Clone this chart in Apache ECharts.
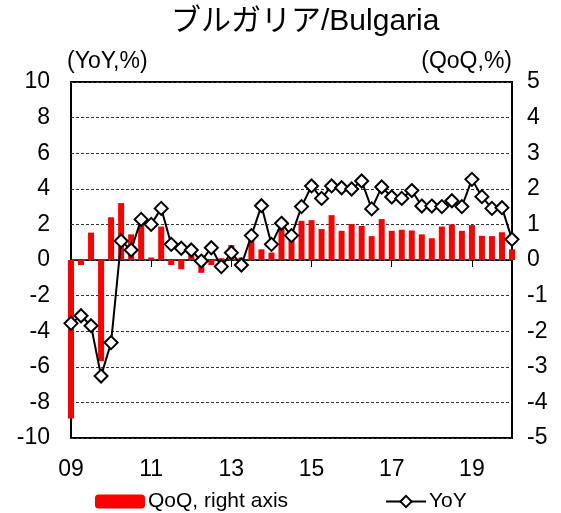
<!DOCTYPE html>
<html>
<head>
<meta charset="utf-8">
<script src="https://cdn.jsdelivr.net/npm/echarts@6/dist/echarts.min.js"></script>
<style>
  html, body { margin: 0; padding: 0; background: #fff; }
  #chart { width: 561px; height: 513px; }
</style>
</head>
<body>
<div id="chart"></div>
<script>
// quarters 2009Q1 .. 2020Q1
const quarters = []
for (let y = 2009; y <= 2020; y++) {
  for (let q = 1; q <= 4; q++) {
    if (y === 2020 && q > 1) break
    quarters.push(String(y).slice(2) + 'Q' + q)
  }
}

// YoY, %, left axis
const yoy = [
  -3.56, -3.13, -3.69, -6.52, -4.64, 1.07, 0.56, 2.28, 2.0, 2.9,
  0.88, 0.66, 0.56, -0.06, 0.69, -0.37, 0.41, -0.28, 1.37, 3.05,
  0.88, 2.06, 1.37, 3.0, 4.16, 3.46, 4.16, 4.06, 3.99, 4.44,
  2.87, 4.1, 3.54, 3.46, 3.9, 3.03, 3.03, 3.0, 3.33, 3.0,
  4.53, 3.56, 2.9, 2.94, 1.16
]

// QoQ, %, right axis
const qoq = [
  -4.45, -0.14, 0.77, -2.84, 1.2, 1.6, 0.72, 0.98, 0.07, 0.94,
  -0.14, -0.26, 0.14, -0.36, -0.14, 0.05, 0.42, 0.07, 0.56, 0.3,
  0.21, 0.87, 0.56, 1.1, 1.12, 0.87, 1.26, 0.82, 1.01, 0.96,
  0.67, 1.15, 0.82, 0.85, 0.83, 0.72, 0.61, 0.94, 1.0, 0.82,
  0.98, 0.68, 0.67, 0.78, 0.3
]

const font = 'Arial, "Liberation Sans", "Noto Sans CJK JP", sans-serif'

const chart = echarts.init(document.getElementById('chart'))
chart.setOption({
  animation: false,
  textStyle: { fontFamily: font, color: '#000' },
  title: {
    text: 'ブルガリア/Bulgaria',
    left: 166,
    top: 2,
    textStyle: { fontFamily: font, fontSize: 30, fontWeight: 'normal', color: '#000' },
  },
  legend: [
    {
      data: ['QoQ, right axis'],
      left: 90, top: 486,
      itemWidth: 50, itemHeight: 14, itemGap: 0,
      textStyle: { fontSize: 21, color: '#000', padding: [0, 0, 0, -2] },
    },
    {
      data: ['YoY'],
      left: 380, top: 486,
      itemWidth: 40, itemHeight: 14,
      textStyle: { fontSize: 21, color: '#000', padding: [0, 0, 0, -2] },
    },
  ],
  grid: {
    left: 71, right: 49, top: 82, bottom: 75,
    show: true, borderColor: '#000', borderWidth: 2,
  },
  xAxis: [
    {
      type: 'category',
      data: quarters,
      boundaryGap: false,
      axisLine: { show: false, onZero: false },
      axisTick: { show: false },
      axisLabel: {
        interval: 7, margin: 20, fontSize: 23, color: '#000',
        formatter: (v) => v.slice(0, 2),
      },
      splitLine: { show: false },
    },
    {
      type: 'category',
      data: quarters,
      boundaryGap: false,
      position: 'top',
      axisLine: { show: true, onZero: true, onZeroAxisIndex: 0, lineStyle: { color: '#000', width: 1.5 } },
      axisTick: { show: true, interval: 7, length: 7, inside: true, lineStyle: { color: '#000', width: 1 } },
      axisLabel: { show: false },
      splitLine: { show: false },
    },
  ],
  yAxis: [
    {
      type: 'value',
      min: -10, max: 10, interval: 2,
      name: '(YoY,%)',
      nameLocation: 'end',
      nameGap: 9,
      nameTextStyle: { fontSize: 23, color: '#000', align: 'left', padding: [0, 0, 0, -4] },
      axisLine: { show: false },
      axisTick: { show: false },
      axisLabel: { fontSize: 23, margin: 21, color: '#000' },
      splitLine: { show: true, lineStyle: { color: '#333', type: [3, 2], width: 1 } },
    },
    {
      type: 'value',
      min: -5, max: 5, interval: 1,
      name: '(QoQ,%)',
      nameLocation: 'end',
      nameGap: 9,
      nameTextStyle: { fontSize: 23, color: '#000', align: 'right', padding: [0, 0, 0, 0] },
      axisLine: { show: false },
      axisTick: { show: false },
      axisLabel: { fontSize: 23, margin: 15, color: '#000' },
      splitLine: { show: false },
    },
  ],
  series: [
    {
      name: 'QoQ, right axis',
      type: 'bar',
      xAxisIndex: 0,
      yAxisIndex: 1,
      data: qoq,
      barWidth: 6,
      itemStyle: { color: '#ff0000' },
      z: 2,
    },
    {
      name: 'YoY',
      type: 'line',
      xAxisIndex: 0,
      yAxisIndex: 0,
      data: yoy,
      symbol: 'diamond',
      symbolSize: 13,
      showAllSymbol: true,
      lineStyle: { color: '#000', width: 2 },
      itemStyle: { color: '#fff', borderColor: '#000', borderWidth: 2 },
      z: 3,
    },
  ],
})
</script>
</body>
</html>
